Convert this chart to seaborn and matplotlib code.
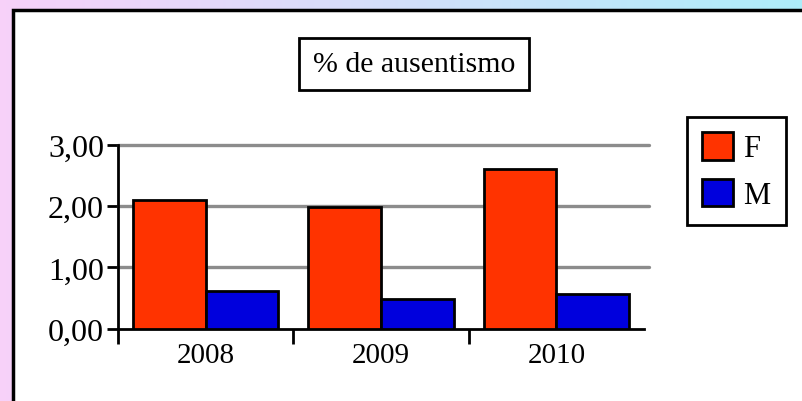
import numpy as np
import pandas as pd
import matplotlib
matplotlib.use("Agg")
import matplotlib.pyplot as plt
from matplotlib.patches import Rectangle
import seaborn as sns

years = ["2008", "2009", "2010"]
sexes = ["F", "M"]
f_values = [2.10, 1.98, 2.61]
m_values = [0.62, 0.48, 0.57]
y_ticks = [0, 1, 2, 3]
y_labels = ["0,00", "1,00", "2,00", "3,00"]
title = "% de ausentismo"
colors = {"F": "#FF3300", "M": "#0000DD"}

df = pd.DataFrame({
    "Year": years * 2,
    "Sexo": ["F"] * len(years) + ["M"] * len(years),
    "Valor": f_values + m_values,
})

sns.set_style("white")
plt.rcParams["font.family"] = ["Liberation Serif", "DejaVu Serif"]
plt.rcParams.update({
    "text.color": "black", "axes.edgecolor": "black",
    "xtick.color": "black", "ytick.color": "black",
    "xtick.bottom": True, "ytick.left": True,
})

fig = plt.figure(figsize=(8.03, 4.02), dpi=100)

# gradient background pink -> cyan
bg = fig.add_axes([0, 0, 1, 1], zorder=-10)
grad = np.linspace(0, 1, 256)
c1 = np.array([0.97, 0.82, 0.98])
c2 = np.array([0.68, 0.93, 0.98])
img = (c1[None, :] * (1 - grad[:, None]) + c2[None, :] * grad[:, None])[None, :, :]
bg.imshow(img, aspect="auto", extent=[0, 1, 0, 1])
bg.set_axis_off()

# white panel with black border
fig.patches.append(Rectangle((13 / 803, -0.1), 1.2, 1 - 11 / 402 + 0.1,
                             transform=fig.transFigure, facecolor="white",
                             edgecolor="black", linewidth=2.5, zorder=-5))

ax = fig.add_axes([118 / 803, 1 - 329.5 / 402, (644 - 118) / 803, (329.5 - 146) / 402])
ax.set_facecolor("none")

sns.barplot(data=df, x="Year", y="Valor", hue="Sexo", palette=colors,
            width=0.83, edgecolor="black", linewidth=2, saturation=1,
            ax=ax, zorder=3)

ax.set_xlim(-0.5, 2.5)
ax.set_ylim(0, 3)
ax.set_yticks(y_ticks)
ax.set_yticklabels(y_labels, fontsize=23)
ax.set_xlabel("")
ax.set_ylabel("")
ax.tick_params(axis="x", which="major", length=0, labelsize=21, pad=10)
ax.tick_params(axis="y", length=8, width=2, direction="out", pad=2)
ax.set_xticks([-0.5, 0.5, 1.5], minor=True)
ax.tick_params(axis="x", which="minor", length=11, width=2, direction="out")

for yv in [1, 2, 3]:
    ax.axhline(yv, color="#8c8c8c", linewidth=2.4, zorder=1, xmax=1.01, clip_on=False)

for side in ["top", "right"]:
    ax.spines[side].set_visible(False)
ax.spines["left"].set_linewidth(2)
ax.spines["bottom"].set_linewidth(2)
ax.spines["left"].set_bounds(0, 3)

handles, labels = ax.get_legend_handles_labels()
ax.legend_.remove()
leg = fig.legend(handles, labels, loc="upper left", bbox_to_anchor=(687 / 803, 1 - 118 / 402),
                 frameon=True, fancybox=False, edgecolor="black", fontsize=22,
                 handlelength=1.0, handleheight=1.0, handletextpad=0.35,
                 borderpad=0.5, labelspacing=0.5, borderaxespad=0)
leg.get_frame().set_linewidth(2)
leg.get_frame().set_alpha(1)

fig.text(414 / 803, 1 - 65 / 402, title, ha="center", va="center", fontsize=21.5,
         bbox=dict(boxstyle="square,pad=0.45", facecolor="white", edgecolor="black", linewidth=2))

fig.savefig("out.png", dpi=100)
